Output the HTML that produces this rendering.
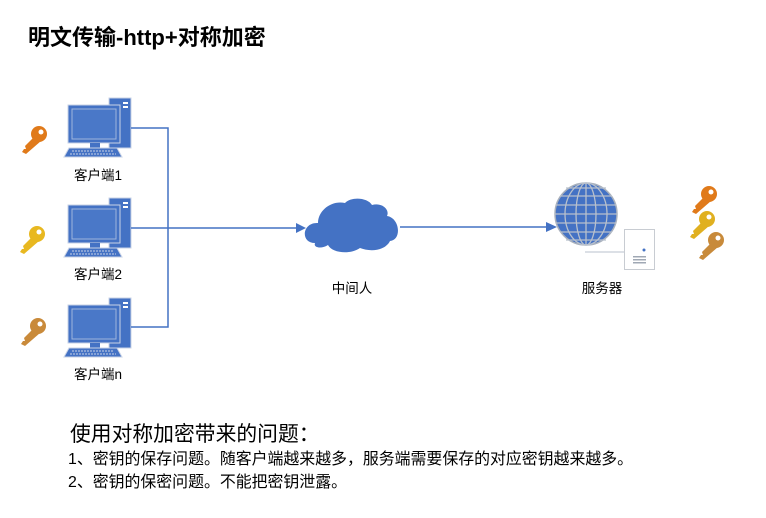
<!DOCTYPE html>
<html><head><meta charset="utf-8"><style>
body{margin:0;background:#fff;width:766px;height:518px;overflow:hidden;font-family:"Liberation Sans","Noto Sans CJK SC",sans-serif;}
</style></head><body>
<svg width="766" height="518" xmlns="http://www.w3.org/2000/svg" style="position:absolute;left:0;top:0">
<defs>
<g id="pc">
<rect x="109" y="0" width="22" height="50" fill="#4472c4" stroke="#c9d3e6" stroke-width="1"/>
<rect x="123" y="4" width="5" height="2" fill="#fff"/><rect x="123" y="8" width="5" height="2" fill="#fff"/>
<rect x="68" y="7" width="52" height="38" fill="#4472c4" stroke="#c9d3e6" stroke-width="1"/>
<rect x="72" y="11" width="44" height="30" fill="#4a78c8" stroke="#9fb5dd" stroke-width="1"/>
<rect x="90" y="45" width="10" height="5" fill="#4472c4"/>
<polygon points="69,50 117,50 122,59 64,59" fill="#4472c4" stroke="#c9d3e6" stroke-width="1"/>
<line x1="72" y1="53" x2="114" y2="53" stroke="#c9d3e6" stroke-width="1" stroke-dasharray="2,1"/>
<line x1="70" y1="56" x2="116" y2="56" stroke="#c9d3e6" stroke-width="1" stroke-dasharray="2,1"/>
</g>
<g id="key">
<circle cx="0" cy="0" r="8"/>
<polygon points="-4,2 2,7 -13,20 -17,18 -15,15 -13,15 -14,12"/>
<circle cx="2" cy="-2" r="2.5" fill="#fff"/>
</g>
</defs>
<text x="28" y="45" font-size="22" font-weight="bold" fill="#000">明文传输-http+对称加密</text>

<use href="#pc" y="98"/>
<use href="#pc" y="198"/>
<use href="#pc" y="298"/>
<g font-size="13.5" fill="#000" text-anchor="middle">
<text x="98" y="180">客户端1</text>
<text x="98" y="279">客户端2</text>
<text x="98" y="379">客户端n</text>
<text x="352" y="293">中间人</text>
<text x="602" y="293">服务器</text>
</g>

<g stroke="#4472c4" stroke-width="1.5" fill="none">
<polyline points="131,128 168,128 168,327 131,327"/>
<line x1="131" y1="228" x2="298" y2="228"/>
<line x1="400" y1="227" x2="548" y2="227"/>
</g>
<polygon points="296,223 306,228 296,233" fill="#4472c4"/>
<polygon points="546,222 557,227 546,232" fill="#4472c4"/>

<path d="M315,243 C300,243 302,222 318,223 C318,210 332,200 345,203 C352,196 368,198 372,205 C382,202 390,210 387,216 C400,218 402,240 390,241 C385,251 370,252 360,248 C350,255 332,253 328,245 C322,249 313,248 315,243 Z" fill="#4472c4"/>

<line x1="585" y1="252" x2="625" y2="252" stroke="#b8c0cc" stroke-width="1"/>
<rect x="624.5" y="229.5" width="30" height="40" fill="#fff" stroke="#c8ccd2"/>
<circle cx="644" cy="250" r="1.5" fill="#4472c4"/>
<rect x="633" y="256" width="13" height="1.5" fill="#a0a8b4"/><rect x="633" y="259" width="13" height="1.5" fill="#a0a8b4"/><rect x="633" y="262" width="13" height="1.5" fill="#a0a8b4"/>

<g>
<circle cx="586" cy="214" r="31" fill="#4472c4" stroke="#a8b0bc" stroke-width="1.5"/>
<g stroke="#b8c0cc" stroke-width="1.3" fill="none">
<line x1="556" y1="205" x2="616" y2="205"/><line x1="556" y1="223" x2="616" y2="223"/>
<line x1="560" y1="196" x2="612" y2="196"/><line x1="560" y1="232" x2="612" y2="232"/>
<line x1="566" y1="188" x2="606" y2="188"/><line x1="566" y1="240" x2="606" y2="240"/>
<line x1="555" y1="214" x2="617" y2="214"/>
<line x1="586" y1="183" x2="586" y2="245"/>
<ellipse cx="586" cy="214" rx="10" ry="31"/><ellipse cx="586" cy="214" rx="21" ry="31"/>
</g>
</g>

<use href="#key" x="39" y="134" fill="#e07a1a"/>
<use href="#key" x="37" y="234" fill="#e8b820"/>
<use href="#key" x="38" y="326" fill="#c98a3a"/>
<use href="#key" x="709" y="194" fill="#e07a1a"/>
<use href="#key" x="707" y="219" fill="#e0b020"/>
<use href="#key" x="716" y="240" fill="#c88a3a"/>

<text x="70" y="441" font-size="20.8" fill="#000">使用对称加密带来的问题：</text>
<text x="68" y="464" font-size="15.9" fill="#000">1、密钥的保存问题。随客户端越来越多，服务端需要保存的对应密钥越来越多。</text>
<text x="68" y="487" font-size="15.9" fill="#000">2、密钥的保密问题。不能把密钥泄露。</text>
</svg>
</body></html>
